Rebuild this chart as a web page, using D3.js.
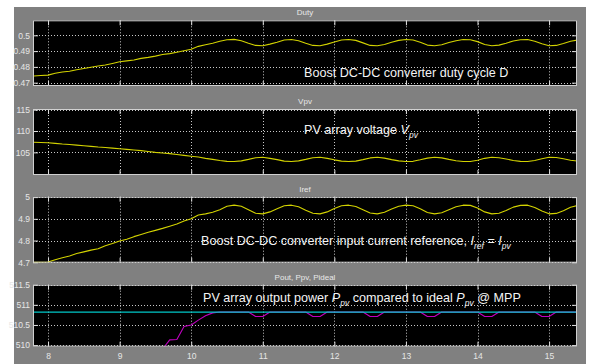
<!DOCTYPE html>
<html>
<head>
<meta charset="utf-8">
<script src="https://cdn.jsdelivr.net/npm/d3@7"></script>
<style>
  html, body { margin: 0; padding: 0; background: #ffffff; }
  svg { display: block; }
</style>
</head>
<body>
<svg id="chart" width="593" height="364"></svg>
<script>
// Simulation time (s)
const time = [
  7.8, 7.9, 8.0, 8.1, 8.2, 8.3, 8.4, 8.5, 8.6, 8.7,
  8.8, 8.9, 9.0, 9.1, 9.2, 9.3, 9.4, 9.5, 9.6, 9.7,
  9.8, 9.9, 10.0, 10.1, 10.2, 10.3, 10.4, 10.5, 10.6, 10.7,
  10.8, 10.9, 11.0, 11.1, 11.2, 11.3, 11.4, 11.5, 11.6, 11.7,
  11.8, 11.9, 12.0, 12.1, 12.2, 12.3, 12.4, 12.5, 12.6, 12.7,
  12.8, 12.9, 13.0, 13.1, 13.2, 13.3, 13.4, 13.5, 13.6, 13.7,
  13.8, 13.9, 14.0, 14.1, 14.2, 14.3, 14.4, 14.5, 14.6, 14.7,
  14.8, 14.9, 15.0, 15.1, 15.2, 15.3, 15.4
];

// Boost converter duty cycle D
const duty = [
  0.4742, 0.4745, 0.4748, 0.4760, 0.4768, 0.4772, 0.4782, 0.4790, 0.4798, 0.4806,
  0.4812, 0.4822, 0.4833, 0.4838, 0.4844, 0.4854, 0.4860, 0.4868, 0.4878, 0.4884,
  0.4893, 0.4902, 0.4912, 0.4930, 0.4940, 0.4950, 0.4962, 0.4972, 0.4974, 0.4966,
  0.4950, 0.4936, 0.4934, 0.4944, 0.4956, 0.4970, 0.4973, 0.4966, 0.4950, 0.4936,
  0.4934, 0.4944, 0.4958, 0.4970, 0.4973, 0.4968, 0.4952, 0.4936, 0.4934, 0.4942,
  0.4956, 0.4968, 0.4973, 0.4970, 0.4956, 0.4938, 0.4934, 0.4940, 0.4954, 0.4966,
  0.4973, 0.4972, 0.4960, 0.4942, 0.4934, 0.4938, 0.4950, 0.4964, 0.4972, 0.4973,
  0.4962, 0.4946, 0.4934, 0.4936, 0.4948, 0.4962, 0.4970
];

// PV array voltage Vpv (V)
const vpv = [
  107.35, 107.3, 107.25, 107.1, 106.95, 106.85, 106.7, 106.55, 106.4, 106.25,
  106.15, 106.0, 105.85, 105.7, 105.55, 105.4, 105.2, 105.0, 104.85, 104.7,
  104.5, 104.3, 104.1, 103.9, 103.6, 103.35, 103.1, 102.9, 102.85, 103.0,
  103.35, 103.75, 103.85, 103.6, 103.3, 102.95, 102.85, 103.0, 103.35, 103.75,
  103.85, 103.6, 103.25, 102.95, 102.85, 102.95, 103.3, 103.7, 103.85, 103.65,
  103.3, 103.0, 102.85, 102.9, 103.25, 103.65, 103.85, 103.7, 103.35, 103.05,
  102.85, 102.85, 103.15, 103.6, 103.85, 103.75, 103.45, 103.1, 102.9, 102.85,
  103.1, 103.5, 103.85, 103.8, 103.5, 103.15, 102.95
];

// Input current reference Iref (A)
const iref = [
  4.700, 4.700, 4.701, 4.712, 4.721, 4.729, 4.740, 4.748, 4.756, 4.762,
  4.776, 4.786, 4.798, 4.806, 4.818, 4.828, 4.838, 4.847, 4.856, 4.866,
  4.876, 4.890, 4.900, 4.918, 4.923, 4.930, 4.942, 4.958, 4.963, 4.958,
  4.942, 4.926, 4.923, 4.932, 4.946, 4.960, 4.963, 4.956, 4.940, 4.926,
  4.923, 4.932, 4.948, 4.960, 4.963, 4.957, 4.942, 4.927, 4.923, 4.930,
  4.945, 4.958, 4.963, 4.960, 4.946, 4.929, 4.923, 4.928, 4.942, 4.956,
  4.963, 4.962, 4.950, 4.932, 4.923, 4.926, 4.938, 4.954, 4.962, 4.963,
  4.952, 4.936, 4.923, 4.925, 4.937, 4.953, 4.962
];

// PV array output power Ppv (W); below the visible range before ~9.6 s
const ppv = [
  null, null, null, null, null, null, null, null, null, null,
  null, null, null, null, null, null, null, null, 509.9, 510.13,
  510.14, 510.46, 510.5, 510.62, 510.73, 510.8, 510.82, 510.82, 510.82, 510.82,
  510.82, 510.71, 510.71, 510.82, 510.82, 510.82, 510.82, 510.82, 510.82, 510.71,
  510.71, 510.82, 510.82, 510.82, 510.82, 510.82, 510.82, 510.71, 510.71, 510.82,
  510.82, 510.82, 510.82, 510.82, 510.82, 510.71, 510.71, 510.82, 510.82, 510.82,
  510.82, 510.82, 510.82, 510.71, 510.71, 510.82, 510.82, 510.82, 510.82, 510.82,
  510.82, 510.71, 510.71, 510.82, 510.82, 510.82, 510.82
];

// Ideal power at the maximum power point (W)
const pIdeal = 510.82;

// Tick labels
const xTicks = [8, 9, 10, 11, 12, 13, 14, 15];
const dutyTicks = [0.47, 0.48, 0.49, 0.5];
const vpvTicks = [105, 110, 115];
const irefTicks = [4.7, 4.8, 4.9, 5];
const powerTicks = [510, 510.5, 511, 511.5];

const svg = d3.select("#chart");
const FONT = "'Liberation Sans', Arial, Helvetica, sans-serif";

// Scope window background
svg.append("rect").attr("x", 14).attr("y", 7).attr("width", 572).attr("height", 357)
  .attr("fill", "#808080");

const plotLeft = 33, plotRight = 577;
const x = d3.scaleLinear().domain([7.79, 15.39]).range([plotLeft, plotRight]);

const panels = [
  {
    title: "Duty", top: 20.3, bottom: 86, domain: [0.4679, 0.5095], ticks: dutyTicks,
    series: [{ values: duty, color: "#d2d200" }],
    note: { x: 304, y: 77, parts: [{ t: "Boost DC-DC converter duty cycle D" }] }
  },
  {
    title: "Vpv", top: 109, bottom: 175, domain: [99.7, 115.15], ticks: vpvTicks,
    series: [{ values: vpv, color: "#d2d200" }],
    note: { x: 304, y: 134, parts: [{ t: "PV array voltage " }, { t: "V", it: true }, { t: "pv", it: true, sub: true }] }
  },
  {
    title: "Iref", top: 196.7, bottom: 262.7, domain: [4.698, 5.002], ticks: irefTicks,
    series: [{ values: iref, color: "#d2d200" }],
    note: { x: 201, y: 245, parts: [
      { t: "Boost DC-DC converter input current reference, " },
      { t: "I", it: true }, { t: "ref", it: true, sub: true },
      { t: " = " }, { t: "I", it: true }, { t: "pv", it: true, sub: true }
    ] }
  },
  {
    title: "Pout, Ppv, Pideal", top: 284.7, bottom: 346.7, domain: [509.96, 511.5], ticks: powerTicks,
    series: [{ values: ppv, color: "#c000c0" }, { constant: pIdeal, color: "#00c8c8" }],
    note: { x: 203, y: 302, parts: [
      { t: "PV array output power " }, { t: "P", it: true }, { t: "pv", it: true, sub: true },
      { t: " compared to ideal " }, { t: "P", it: true }, { t: "pv", it: true, sub: true },
      { t: " @ MPP" }
    ] },
    xLabels: true
  }
];

panels.forEach((p, i) => {
  const y = d3.scaleLinear().domain(p.domain).range([p.bottom, p.top]);
  const g = svg.append("g");
  const h = p.bottom - p.top;

  // Axes title above the plot area
  g.append("text").attr("x", (plotLeft + plotRight) / 2).attr("y", p.top - 5)
    .attr("text-anchor", "middle").attr("font-family", FONT).attr("font-size", 8)
    .attr("fill", "#e8e8e8").text(p.title);

  // Black plotting area
  g.append("rect").attr("x", plotLeft).attr("y", p.top)
    .attr("width", plotRight - plotLeft).attr("height", h).attr("fill", "#000");

  const clipId = "clip" + i;
  svg.append("clipPath").attr("id", clipId).append("rect")
    .attr("x", plotLeft).attr("y", p.top).attr("width", plotRight - plotLeft).attr("height", h);

  // Dotted grid
  g.selectAll(".hg").data(p.ticks).join("line")
    .attr("x1", plotLeft).attr("x2", plotRight)
    .attr("y1", d => Math.round(y(d)) + 0.5).attr("y2", d => Math.round(y(d)) + 0.5)
    .attr("stroke", "#c8c8c8").attr("stroke-width", 1).attr("stroke-dasharray", "1,2");
  g.selectAll(".vg").data(xTicks).join("line")
    .attr("y1", p.top).attr("y2", p.bottom)
    .attr("x1", d => Math.round(x(d)) + 0.5).attr("x2", d => Math.round(x(d)) + 0.5)
    .attr("stroke", "#c8c8c8").attr("stroke-width", 1).attr("stroke-dasharray", "1,2");

  // Inward tick marks
  const yAxisL = d3.axisLeft(y).tickValues(p.ticks).tickSizeInner(-5).tickSizeOuter(0).tickPadding(3)
    .tickFormat(d => String(d));
  const ya = g.append("g").attr("transform", `translate(${plotLeft},0)`).call(yAxisL);
  ya.select(".domain").remove();
  ya.selectAll("line").attr("stroke", "#e0e0e0");
  ya.selectAll("text").attr("font-family", FONT).attr("font-size", 8.5).attr("fill", "#e6e6e6");

  const yAxisR = d3.axisRight(y).tickValues(p.ticks).tickSizeInner(-5).tickSizeOuter(0).tickFormat("");
  const yr = g.append("g").attr("transform", `translate(${plotRight},0)`).call(yAxisR);
  yr.select(".domain").remove();
  yr.selectAll("line").attr("stroke", "#e0e0e0");

  const xAxisB = d3.axisBottom(x).tickValues(xTicks).tickSizeInner(-5).tickSizeOuter(0)
    .tickPadding(6).tickFormat(p.xLabels ? (d => String(d)) : "");
  const xb = g.append("g").attr("transform", `translate(0,${p.bottom})`).call(xAxisB);
  xb.select(".domain").remove();
  xb.selectAll("line").attr("stroke", "#e0e0e0");
  xb.selectAll("text").attr("font-family", FONT).attr("font-size", 8.5).attr("fill", "#e6e6e6");

  const xAxisT = d3.axisTop(x).tickValues(xTicks).tickSizeInner(-5).tickSizeOuter(0).tickFormat("");
  const xt = g.append("g").attr("transform", `translate(0,${p.top})`).call(xAxisT);
  xt.select(".domain").remove();
  xt.selectAll("line").attr("stroke", "#e0e0e0");

  // Signals
  const traces = g.append("g").attr("clip-path", `url(#${clipId})`);
  p.series.forEach(s => {
    let pts;
    if (s.constant !== undefined) {
      pts = [{ t: x.domain()[0], v: s.constant }, { t: x.domain()[1], v: s.constant }];
    } else {
      pts = time.map((t, k) => ({ t, v: s.values[k] }));
    }
    const line = d3.line().defined(d => d.v !== null).x(d => x(d.t)).y(d => y(d.v));
    traces.append("path").attr("d", line(pts)).attr("fill", "none")
      .attr("stroke", s.color).attr("stroke-width", 1.1).attr("stroke-linejoin", "round");
  });

  // Frame
  g.append("rect").attr("x", plotLeft + 0.5).attr("y", p.top + 0.5)
    .attr("width", plotRight - plotLeft - 1).attr("height", h - 1)
    .attr("fill", "none").attr("stroke", "#d0d0d0").attr("stroke-width", 1);

  // Annotation with italic symbols and subscripts
  const note = g.append("text").attr("x", p.note.x).attr("y", p.note.y)
    .attr("font-family", FONT).attr("font-size", 12.6).attr("fill", "#f4f4f4");
  let shifted = false;
  p.note.parts.forEach(part => {
    const ts = note.append("tspan").text(part.t);
    if (part.it) ts.attr("font-style", "italic");
    if (part.sub) {
      ts.attr("font-size", 8.5).attr("dy", shifted ? 0 : 4);
      shifted = true;
    } else if (shifted) {
      ts.attr("dy", -4);
      shifted = false;
    }
  });
});
</script>
</body>
</html>
